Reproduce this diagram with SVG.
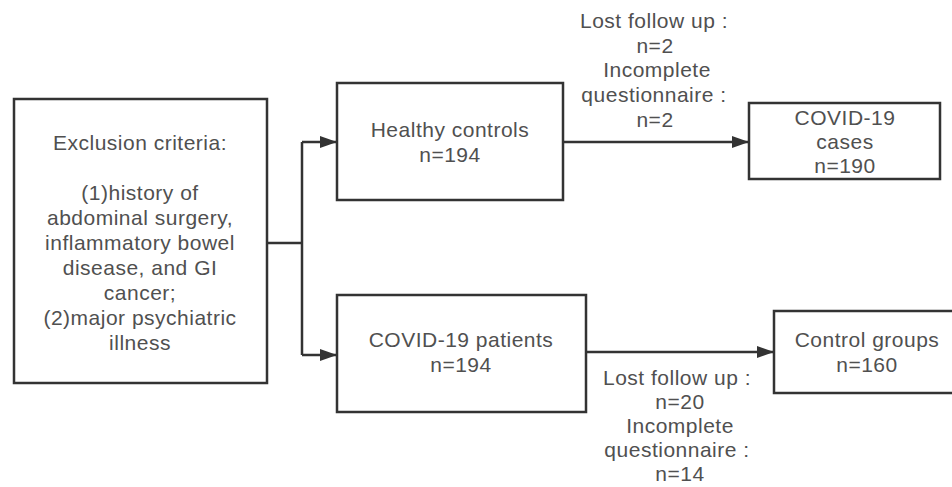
<svg xmlns="http://www.w3.org/2000/svg" width="952" height="487" viewBox="0 0 952 487">
<defs>
<style>
.box{fill:#fff;stroke:#333;stroke-width:2.5}
.t{font-family:"Liberation Sans",Arial,sans-serif;font-size:21px;letter-spacing:0.5px;fill:#505050;text-anchor:middle}
.c{fill:none;stroke:#333;stroke-width:2.5}
</style>
<marker id="ah" viewBox="0 0 17 12" refX="17" refY="6" markerWidth="17" markerHeight="12" markerUnits="userSpaceOnUse" orient="auto">
<path d="M0,0 L17,6 L0,12 Z" fill="#333"/>
</marker>
</defs>
<rect width="952" height="487" fill="#fff"/>
<g id="connectors">
<path class="c" d="M267,243 H302"/>
<path class="c" d="M302,142 V355"/>
<path class="c" d="M302,142 H337" marker-end="url(#ah)"/>
<path class="c" d="M302,355 H337" marker-end="url(#ah)"/>
<path class="c" d="M563,142 H749" marker-end="url(#ah)"/>
<path class="c" d="M586,352 H774" marker-end="url(#ah)"/>
</g>
<g id="exclusion">
<rect class="box" x="14" y="99" width="253" height="284"/>
<text class="t" x="140" y="150">Exclusion criteria:</text>
<text class="t" x="140" y="200">(1)history of</text>
<text class="t" x="140" y="225">abdominal surgery,</text>
<text class="t" x="140" y="250">inflammatory bowel</text>
<text class="t" x="140" y="275">disease, and GI</text>
<text class="t" x="140" y="300">cancer;</text>
<text class="t" x="140" y="325">(2)major psychiatric</text>
<text class="t" x="140" y="350">illness</text>
</g>
<g id="healthy">
<rect class="box" x="337" y="83" width="226" height="117"/>
<text class="t" x="450" y="137">Healthy controls</text>
<text class="t" x="450" y="162">n=194</text>
</g>
<g id="patients">
<rect class="box" x="337" y="295" width="249" height="117"/>
<text class="t" x="461" y="347">COVID-19 patients</text>
<text class="t" x="461" y="372">n=194</text>
</g>
<g id="cases">
<rect class="box" x="749" y="103" width="191" height="76"/>
<text class="t" x="845" y="125">COVID-19</text>
<text class="t" x="845" y="149">cases</text>
<text class="t" x="845" y="173">n=190</text>
</g>
<g id="control">
<rect class="box" x="774" y="311" width="190" height="82"/>
<text class="t" x="867" y="347">Control groups</text>
<text class="t" x="867" y="372">n=160</text>
</g>
<g id="label-top">
<text class="t" x="654" y="28">Lost follow up :</text>
<text class="t" x="655" y="53">n=2</text>
<text class="t" x="657" y="77">Incomplete</text>
<text class="t" x="654" y="102">questionnaire :</text>
<text class="t" x="655" y="127">n=2</text>
</g>
<g id="label-bottom">
<text class="t" x="677" y="385">Lost follow up :</text>
<text class="t" x="680" y="409">n=20</text>
<text class="t" x="680" y="433">Incomplete</text>
<text class="t" x="677" y="457">questionnaire :</text>
<text class="t" x="680" y="481">n=14</text>
</g>
</svg>
